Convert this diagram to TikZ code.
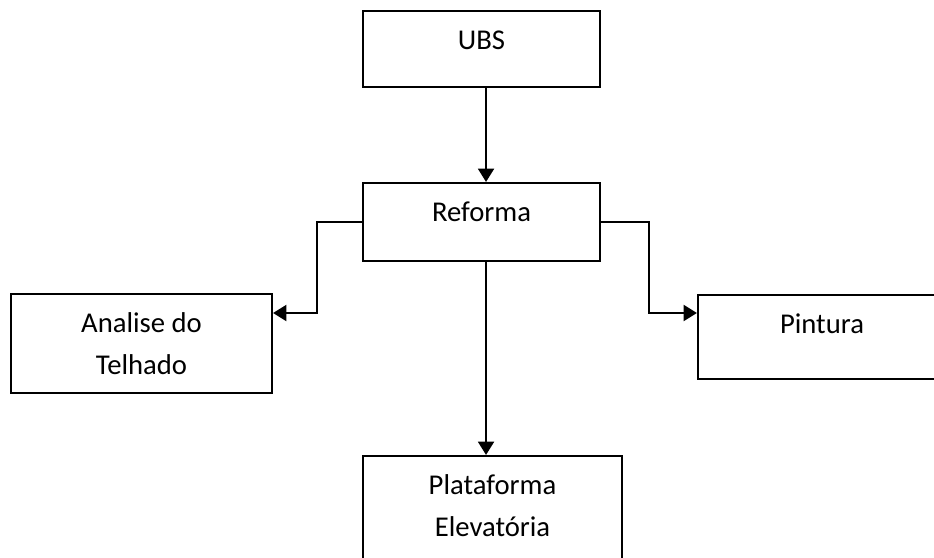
\documentclass[tikz,border=0pt]{standalone}
\usepackage{fontspec}
\setmainfont{Carlito}
\usepackage{tikz}
\usetikzlibrary{arrows.meta,positioning,calc}
\newcommand{\boxtext}[3]{\parbox[c][#2][t]{#1}{\vspace*{7.5pt}\centering\strut #3}}
\tikzset{
  box/.style={draw, line width=1.6pt, inner sep=0pt, align=center,
              font=\fontsize{21.5pt}{31pt}\selectfont},
  flow/.style={-{Triangle[length=10pt, width=12pt]}, line width=1.6pt}
}

\begin{document}
\begin{tikzpicture}[x=0.75pt, y=-0.75pt]
  \useasboundingbox (0,0) rectangle (934,557);
  % top of the tree
  \node[box] (ubs) at (481.5,49) {\boxtext{177.75pt}{57pt}{UBS}};
  \node[box] (ref) at (481.5,222) {\boxtext{177.75pt}{58.5pt}{Reforma}};
  % the three branches
  \node[box] (tel) at (141.5,343.5) {\boxtext{195.75pt}{74.25pt}{Analise do\\ Telhado}};
  \node[box] (pin) at (822,337) {\boxtext{186pt}{63pt}{Pintura}};
  \node[box] (pla) at (492.5,508) {\boxtext{194.25pt}{78pt}{Plataforma\\ Elevatória}};
  % elbows
  \coordinate (lt) at (317,313);
  \coordinate (rt) at (649,313);
  \draw[flow] ([xshift=3.4pt]ubs.south) -- ([xshift=3.4pt]ref.north);
  \draw[flow] (ref.west) -| (lt) -- (tel.east |- lt);
  \draw[flow] (ref.east) -| (rt) -- (pin.west |- rt);
  \draw[flow] ([xshift=3.4pt]ref.south) -- ([xshift=3.4pt]ref.south |- pla.north);
\end{tikzpicture}
\end{document}
